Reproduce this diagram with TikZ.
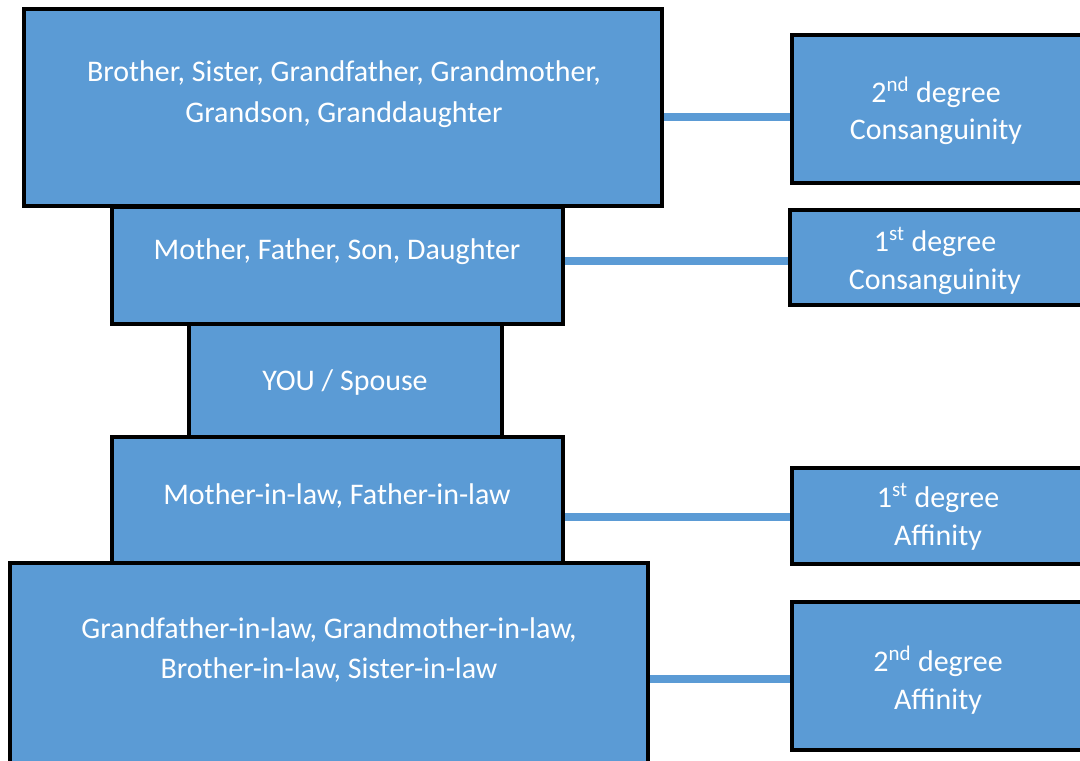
\documentclass[tikz,border=0pt]{standalone}
\usepackage{fontspec}
\setmainfont{Carlito}
\newcommand{\pxunit}{0.025cm}
\definecolor{boxblue}{RGB}{91,155,213}
\tikzset{
	block/.style={draw=black,fill=boxblue,line width=4*\pxunit,inner sep=0pt},
	words/.style={text=white,align=center,font=\fontsize{21.3}{29}\selectfont},
	degree/.style={words,font=\fontsize{21.3}{27}\selectfont},
	link/.style={draw=boxblue,line width=8*\pxunit},
}
\begin{document}
\begin{tikzpicture}[x=\pxunit,y=-\pxunit]

	\useasboundingbox (0,0) rectangle (1080,761);
	\clip (0,0) rectangle (1080,761);

	% blocks
	\node[block,minimum width=638*\pxunit,minimum height=197*\pxunit] (grand) at (343,107.5) {}; % 2nd degree block
	\node[block,minimum width=451*\pxunit,minimum height=117*\pxunit] (parent) at (337.5,265.5) {}; % 1st degree block
	\node[block,minimum width=313*\pxunit,minimum height=113*\pxunit] (you) at (345.5,380.5) {}; % you block
	\node[block,minimum width=451*\pxunit,minimum height=126*\pxunit] (inlaw) at (337.5,500) {}; % 1st degree in-law block
	\node[block,minimum width=638*\pxunit,minimum height=202*\pxunit] (grandinlaw) at (329,664) {}; % 2nd degree in-law block

	\node[block,minimum width=292*\pxunit,minimum height=148*\pxunit] (cons2) at (938,109) {};
	\node[block,minimum width=294*\pxunit,minimum height=95*\pxunit] (cons1) at (937,257.5) {};
	\node[block,minimum width=292*\pxunit,minimum height=96*\pxunit] (aff1) at (938,516) {};
	\node[block,minimum width=292*\pxunit,minimum height=148*\pxunit] (aff2) at (938,676) {};

	% label
	\node[words] (grandtext) at (344,94) {Brother, Sister, Grandfather, Grandmother,\\Grandson, Granddaughter};
	\node[words] (parenttext) at (337,252) {Mother, Father, Son, Daughter};
	\node[words] (youtext) at (345,383) {YOU / Spouse};
	\node[words] (inlawtext) at (337,496) {Mother-in-law, Father-in-law};
	\node[words] (grandinlawtext) at (329,650) {Grandfather-in-law, Grandmother-in-law,\\Brother-in-law, Sister-in-law};

	\node[degree] (cons2text) at (936,111) {2\textsuperscript{nd} degree\\Consanguinity};
	\node[degree] (cons1text) at (935,261) {1\textsuperscript{st} degree\\Consanguinity};
	\node[degree] (aff1text) at (938,517) {1\textsuperscript{st} degree\\Affinity};
	\node[degree] (aff2text) at (938,680) {2\textsuperscript{nd} degree\\Affinity};

	%Links
	\draw[link] (grand.east |- 0,117.5) -- (cons2.west |- 0,117.5); % 2nd degree consanguinity
	\draw[link] (parent.east |- 0,261) -- (cons1.west |- 0,261); % 1st degree consanguinity
	\draw[link] (inlaw.east |- 0,517) -- (aff1.west |- 0,517); % 1st degree affinity
	\draw[link] (grandinlaw.east |- 0,679) -- (aff2.west |- 0,679); % 2nd degree affinity

\end{tikzpicture}
\end{document}
